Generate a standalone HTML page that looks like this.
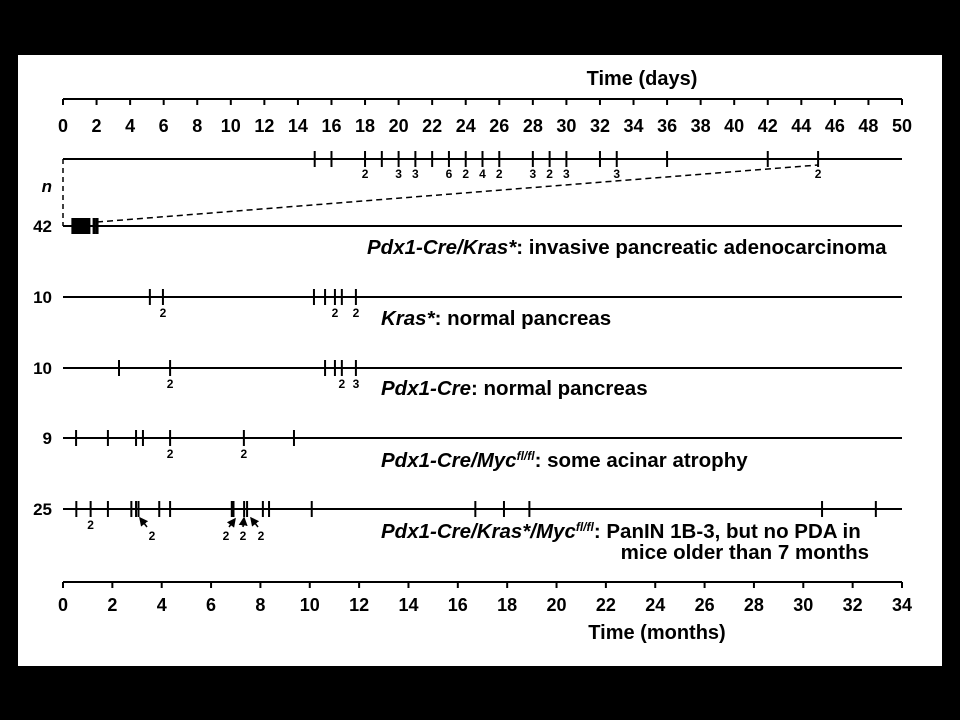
<!DOCTYPE html>
<html><head><meta charset="utf-8"><style>
body{margin:0;background:#000;width:960px;height:720px;overflow:hidden}
svg{display:block}
text{font-family:"Liberation Sans",sans-serif;font-weight:bold;fill:#000}
</style></head><body>
<svg id="chart" width="960" height="720">
<defs><marker id="ah" markerWidth="6" markerHeight="6" refX="5" refY="3" orient="auto"><path d="M0,0 L6,3 L0,6 z" fill="#000"/></marker></defs>
<rect x="18" y="55" width="924" height="611" fill="#fff"/>
<g id="g"></g>
</svg>
<script>
// Data
const dayTicks=[0,2,4,6,8,10,12,14,16,18,20,22,24,26,28,30,32,34,36,38,40,42,44,46,48,50];
const monthTicks=[0,2,4,6,8,10,12,14,16,18,20,22,24,26,28,30,32,34];
const dayEvents=[15,16,18,19,20,21,22,23,24,25,26,28,29,30,32,33,36,42,45];
const dayCounts=[[18,2],[20,3],[21,3],[23,6],[24,2],[25,4],[26,2],[28,3],[29,2],[30,3],[33,3],[45,2]];
const rowN=[42,10,10,9,25];
const rowKras=[0.4,0.45,0.5,0.55,0.6,0.65,0.7,0.75,0.8,0.85,0.9,0.95,1.0,1.05,1.26,1.38];
const rowKrasOnly=[3.52,4.05,10.17,10.62,11.02,11.3,11.87];
const rowKrasOnlyCounts=[[4.05,2],[11.02,2],[11.87,2]];
const rowCre=[2.27,4.34,10.62,11.02,11.3,11.87];
const rowCreCounts=[[4.34,2],[11.3,2],[11.87,3]];
const rowMyc=[0.53,1.82,2.96,3.24,4.34,7.33,9.36];
const rowMycCounts=[[4.34,2],[7.33,2]];
const rowKM=[0.54,1.12,1.82,2.77,2.96,3.06,3.9,4.34,6.84,6.91,7.34,7.46,8.1,8.35,10.08,16.71,17.87,18.9,30.76,32.94];
const rowKMCounts=[[1.12,2]];

const NS="http://www.w3.org/2000/svg",G=document.getElementById('g');
const X0=63,X1=902;
const xd=d=>X0+(X1-X0)*d/50, xm=m=>X0+(X1-X0)*m/34;
function el(t,a,p){const e=document.createElementNS(NS,t);for(const k in a)e.setAttribute(k,a[k]);(p||G).appendChild(e);return e;}
function line(x1,y1,x2,y2,w,name,dash){const e=el('line',{x1,y1,x2,y2,stroke:'#000','stroke-width':w||2});if(dash)e.setAttribute('stroke-dasharray',dash);

return e;}
function txt(x,y,s,size,name,anchor,italic){const e=el('text',{x,y,'font-size':size,'text-anchor':anchor||'middle'});if(italic)e.setAttribute('font-style','italic');e.textContent=s;

return e;}

// days axis
line(X0,99,X1,99,2,'days-axis-line');
dayTicks.forEach(d=>{line(xd(d),99,xd(d),105,2,'days-axis-tick');txt(xd(d),132,String(d),18,'days-tick-label');});
txt(642,85,'Time (days)',20,'days-axis-title');
// day strip
line(X0,159,X1,159,2,'days-strip-line');
dayEvents.forEach(d=>line(xd(d),151,xd(d),167,2,'day-event-tick'));
dayCounts.forEach(c=>txt(xd(c[0]),178,String(c[1]),12,'day-event-count'));
line(63,159,63,226,1.5,'zoom-guide-left','5,4');
line(xm(1.38),222,xd(45),165,1.5,'zoom-guide-diagonal','6,4');
txt(52,192,'n',17,'n-label','end',true);

// rows
const rowsY=[226,297,368,438,509];
const rows=[[rowKras,[]],[rowKrasOnly,rowKrasOnlyCounts],[rowCre,rowCreCounts],[rowMyc,rowMycCounts],[rowKM,rowKMCounts]];
rows.forEach((r,i)=>{const y=rowsY[i];
 line(X0,y,X1,y,2,'row-line');
 txt(52,y+6,String(rowN[i]),17,'row-n-label','end');
 r[0].forEach(m=>line(xm(m),y-8,xm(m),y+8,i==0?3:2,'event-tick'));
 r[1].forEach(c=>txt(xm(c[0]),y+20,String(c[1]),12,'event-count'));
});
// arrows row 5
const arr=[[152,537,140,518,147,527],[226,537,235,519,229,527],[243,537,244,518,243,527],[261,537,251,518,258,527]];
arr.forEach(a=>{const l=line(a[4],a[5],a[2],a[3],1.5,'count-arrow');l.setAttribute('marker-end','url(#ah)');txt(a[0],a[1]+3,'2',12,'event-count');});

// months axis
line(X0,582,X1,582,2,'months-axis-line');
monthTicks.forEach(m=>{line(xm(m),582,xm(m),588,2,'months-axis-tick');txt(xm(m),611,String(m),18,'months-tick-label');});
txt(657,639,'Time (months)',20,'months-axis-title');
</script>
<svg style="position:absolute;left:0;top:0" width="960" height="720">
<text x="367" y="254" font-size="20.5"><tspan font-style="italic">Pdx1-Cre/Kras*</tspan>: invasive pancreatic adenocarcinoma</text>
<text x="381" y="325" font-size="20.5"><tspan font-style="italic">Kras*</tspan>: normal pancreas</text>
<text x="381" y="395" font-size="20.5"><tspan font-style="italic">Pdx1-Cre</tspan>: normal pancreas</text>
<text x="381" y="467" font-size="20.5"><tspan font-style="italic">Pdx1-Cre/Myc</tspan><tspan font-style="italic" font-size="12" dy="-7">fl/fl</tspan><tspan dy="7">: some acinar atrophy</tspan></text>
<text x="381" y="538" font-size="20.5"><tspan font-style="italic">Pdx1-Cre/Kras*/Myc</tspan><tspan font-style="italic" font-size="12" dy="-7">fl/fl</tspan><tspan dy="7">: PanIN 1B-3, but no PDA in</tspan></text>
<text x="869" y="559" font-size="20.5" text-anchor="end">mice older than 7 months</text>
</svg>
</body></html>
